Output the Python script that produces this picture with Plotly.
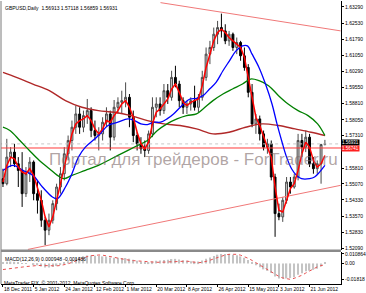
import plotly.graph_objects as go

# ---------------- data ----------------
bar_idx = list(range(85))
opens = [1.55315, 1.55083, 1.56317, 1.56549, 1.56009, 1.55700, 1.54620, 1.55546, 1.56086, 1.54620,
         1.54312, 1.53386, 1.52924, 1.53386, 1.54158, 1.54929, 1.55546, 1.56472, 1.57089, 1.57705,
         1.58322, 1.57705, 1.58245, 1.58477, 1.57551, 1.57320, 1.57397, 1.57937, 1.58322, 1.57243,
         1.58631, 1.58862, 1.58940, 1.59094, 1.58168, 1.57320, 1.56934, 1.56703, 1.56626, 1.57397,
         1.58631, 1.58785, 1.58477, 1.59402, 1.59094, 1.60019, 1.59711, 1.58940, 1.58631, 1.58785,
         1.58940, 1.58631, 1.59094, 1.60019, 1.61099, 1.61408, 1.62025, 1.62333, 1.62178, 1.61716,
         1.62025, 1.61408, 1.61639, 1.61022, 1.60482, 1.59325, 1.57860, 1.58091, 1.57397, 1.56780,
         1.56934, 1.55392, 1.53695, 1.53541, 1.54312, 1.55160, 1.54929, 1.55392, 1.57089, 1.56780,
         1.57243, 1.56009, 1.55778, 1.56009, 1.56913]
highs = [1.55778, 1.57166, 1.56780, 1.56934, 1.56317, 1.56549, 1.55855, 1.56317, 1.56163, 1.55237,
         1.54775, 1.53541, 1.53695, 1.54312, 1.55083, 1.55855, 1.56780, 1.57320, 1.58014, 1.58708,
         1.58631, 1.58477, 1.59017, 1.58631, 1.58014, 1.57705, 1.58168, 1.58631, 1.58477, 1.58970,
         1.59094, 1.59402, 1.59788, 1.59248, 1.58477, 1.57474, 1.57243, 1.57089, 1.57551, 1.59094,
         1.59094, 1.59094, 1.59711, 1.59711, 1.60328, 1.60559, 1.59865, 1.59094, 1.58940, 1.59094,
         1.59634, 1.59248, 1.60328, 1.61408, 1.61716, 1.62333, 1.62642, 1.62981, 1.62487, 1.62178,
         1.62102, 1.61870, 1.61716, 1.61408, 1.60636, 1.59711, 1.58322, 1.58245, 1.57551, 1.57166,
         1.57089, 1.55546, 1.54158, 1.54466, 1.55392, 1.55392, 1.55546, 1.57397, 1.57397, 1.57551,
         1.57397, 1.56317, 1.56163, 1.56934, 1.57118]
lows = [1.54929, 1.55006, 1.55855, 1.55855, 1.54929, 1.54003, 1.54466, 1.55160, 1.54312, 1.53695,
        1.53078, 1.52230, 1.52692, 1.53232, 1.53849, 1.54620, 1.55237, 1.56163, 1.56626, 1.57397,
        1.57397, 1.57474, 1.57860, 1.57243, 1.57089, 1.56626, 1.57089, 1.57705, 1.56626, 1.57089,
        1.58322, 1.58322, 1.58631, 1.57705, 1.57011, 1.56626, 1.56472, 1.56317, 1.56472, 1.57243,
        1.58168, 1.58245, 1.58322, 1.58785, 1.58940, 1.59557, 1.58631, 1.58322, 1.58322, 1.58477,
        1.58477, 1.58400, 1.58940, 1.59865, 1.60636, 1.61253, 1.61562, 1.61870, 1.61562, 1.61485,
        1.61253, 1.61099, 1.60791, 1.60328, 1.59094, 1.57705, 1.57397, 1.57089, 1.56626, 1.56472,
        1.55237, 1.52615, 1.53386, 1.53309, 1.54158, 1.54620, 1.54852, 1.55237, 1.56317, 1.56549,
        1.55855, 1.55546, 1.55546, 1.55083, 1.56859]
closes = [1.55083, 1.56317, 1.56549, 1.56009, 1.55700, 1.54620, 1.55546, 1.56086, 1.54620, 1.54312,
          1.53386, 1.52924, 1.53386, 1.54158, 1.54929, 1.55546, 1.56472, 1.57089, 1.57705, 1.58322,
          1.57705, 1.58245, 1.58477, 1.57551, 1.57320, 1.57397, 1.57937, 1.58322, 1.57243, 1.58631,
          1.58862, 1.58940, 1.59094, 1.58168, 1.57320, 1.56934, 1.56703, 1.56626, 1.57397, 1.58631,
          1.58785, 1.58477, 1.59402, 1.59094, 1.60019, 1.59711, 1.58940, 1.58631, 1.58785, 1.58940,
          1.58631, 1.59094, 1.60019, 1.61099, 1.61408, 1.62025, 1.62333, 1.62178, 1.61716, 1.62025,
          1.61408, 1.61639, 1.61022, 1.60482, 1.59325, 1.57860, 1.58091, 1.57397, 1.56780, 1.56934,
          1.55392, 1.53695, 1.53541, 1.54312, 1.55160, 1.54929, 1.55392, 1.57089, 1.56780, 1.57243,
          1.56009, 1.55778, 1.56009, 1.56900, 1.56931]

fast_ma = [1.55160, 1.55932, 1.56317, 1.56240, 1.55855, 1.55623, 1.55546, 1.55778, 1.55469, 1.54929,
           1.54312, 1.53541, 1.53078, 1.53541, 1.54312, 1.55160, 1.56009, 1.56780, 1.57397, 1.57860,
           1.58014, 1.58091, 1.58245, 1.58014, 1.57628, 1.57397, 1.57628, 1.58014, 1.57937, 1.58245,
           1.58477, 1.58785, 1.58940, 1.58631, 1.58168, 1.57474, 1.56934, 1.56703, 1.57011, 1.57860,
           1.58400, 1.58554, 1.58785, 1.59017, 1.59480, 1.59711, 1.59325, 1.58862, 1.58708, 1.58862,
           1.58940, 1.59017, 1.59634, 1.60482, 1.61099, 1.61716, 1.62102, 1.62256, 1.62102, 1.61870,
           1.61716, 1.61562, 1.61408, 1.60945, 1.60019, 1.58940, 1.58168, 1.57783, 1.57243, 1.56780,
           1.56317, 1.54929, 1.53849, 1.53772, 1.54312, 1.54852, 1.55083, 1.55700, 1.56472, 1.57011,
           1.56780, 1.56163, 1.55855, 1.56009, 1.56394]

mid_ma_x = [0, 2.65, 5.2, 7.8, 10.3, 12.9, 14.2, 16.3, 18.0, 19.7, 21.5, 24.0, 25.7, 27.4, 30.0,
            32.6, 34.3, 36.0, 37.7, 39.4, 41.1, 42.8, 44.5, 47.1, 48.8, 50.5, 52.2, 53.9, 55.6,
            57.4, 59.1, 60.8, 62.5, 63.8, 65.0, 66.8, 68.5, 70.2, 71.5, 72.7, 74.0, 75.3, 76.6,
            77.9, 80.0, 81.3, 82.6, 84]
mid_ma = [1.55700, 1.55932, 1.55700, 1.55469, 1.54929, 1.54466, 1.54389, 1.54929, 1.55546, 1.56317,
          1.56780, 1.57166, 1.57474, 1.57783, 1.57937, 1.58091, 1.58014, 1.57860, 1.57829, 1.57937,
          1.57937, 1.58091, 1.58322, 1.58785, 1.59017, 1.59047, 1.59171, 1.59480, 1.59788, 1.60328,
          1.60791, 1.61253, 1.61485, 1.61485, 1.61099, 1.60482, 1.59711, 1.58785, 1.57860, 1.57089,
          1.56317, 1.55778, 1.55469, 1.55314, 1.55314, 1.55392, 1.55623, 1.55932]

slow_ma_x = [0, 1.8, 4.4, 6.9, 9.5, 12.1, 14.2, 15.9, 18.0, 21.5, 24.9, 28.3, 31.7, 35.1, 37.7,
             40.3, 42.8, 45.4, 47.9, 50.5, 52.2, 54.8, 57.4, 59.9, 62.5, 64.6, 66.8, 69.3, 71.9,
             74.4, 77.0, 79.6, 82.1, 84]
slow_ma = [1.57705, 1.57551, 1.57089, 1.56626, 1.56163, 1.55778, 1.55469, 1.55315, 1.55469, 1.55700,
           1.55932, 1.56240, 1.56549, 1.56857, 1.57089, 1.57551, 1.57860, 1.58091, 1.58245, 1.58322,
           1.58554, 1.58940, 1.59248, 1.59480, 1.59711, 1.59942, 1.59865, 1.59634, 1.59171, 1.58785,
           1.58477, 1.58245, 1.57860, 1.57320]

long_ma_x = [0, 3.5, 7.8, 12.1, 16.3, 20.6, 24.9, 29.1, 33.4, 37.7, 42.0, 46.2, 50.5, 54.8, 59.0,
             63.3, 67.6, 71.9, 76.2, 80.4, 84]
long_ma = [1.60251, 1.60019, 1.59711, 1.59402, 1.58940, 1.58631, 1.58477, 1.58400, 1.58245, 1.58014,
           1.57860, 1.57783, 1.57628, 1.57397, 1.57474, 1.57705, 1.57860, 1.57783, 1.57628, 1.57474,
           1.57320]

upper_trend_x = [41.1, 88.1]
upper_trend_y = [1.63491, 1.62179]
lower_trend_x = [6.5, 88.1]
lower_trend_y = [1.52030, 1.55007]
level_price = 1.56741
last_close = 1.56931

macd_main = [0.0010, 0.0020, 0.0022, 0.0018, 0.0010, -0.0004, -0.0006, 0.0000, -0.0012, -0.0022,
             -0.0034, -0.0046, -0.0048, -0.0042, -0.0030, -0.0014, 0.0006, 0.0026, 0.0046, 0.0066,
             0.0074, 0.0082, 0.0090, 0.0090, 0.0088, 0.0084, 0.0080, 0.0078, 0.0068, 0.0066,
             0.0064, 0.0062, 0.0062, 0.0054, 0.0042, 0.0030, 0.0020, 0.0012, 0.0012, 0.0022,
             0.0030, 0.0032, 0.0040, 0.0042, 0.0050, 0.0052, 0.0044, 0.0036, 0.0030, 0.0026,
             0.0022, 0.0022, 0.0032, 0.0052, 0.0068, 0.0086, 0.0100, 0.0108, 0.010864, 0.0106,
             0.0100, 0.0092, 0.0080, 0.0064, 0.0040, 0.0004, -0.0020, -0.0044, -0.0068, -0.0084,
             -0.0110, -0.0150, -0.0172, -0.0176, -0.0172, -0.0166, -0.0158, -0.0130, -0.0112, -0.0090,
             -0.0082, -0.0074, -0.0062, -0.0036, 0.000948]
macd_signal = [-0.0070, -0.0066, -0.0060, -0.0054, -0.0048, -0.0042, -0.0036, -0.0030, -0.0026, -0.0024,
               -0.0024, -0.0026, -0.0028, -0.0029, -0.0028, -0.0024, -0.0016, -0.0004, 0.0012, 0.0030,
               0.0048, 0.0064, 0.0078, 0.0088, 0.0094, 0.0096, 0.0094, 0.0088, 0.0080, 0.0070,
               0.0060, 0.0050, 0.0042, 0.0036, 0.0032, 0.0028, 0.0024, 0.0020, 0.0016, 0.0014,
               0.0013, 0.0013, 0.0015, 0.0018, 0.0022, 0.0026, 0.0030, 0.0030, 0.0026, 0.0020,
               0.0012, 0.0008, 0.0012, 0.0022, 0.0036, 0.0052, 0.0068, 0.0084, 0.0096, 0.0104,
               0.0107, 0.0104, 0.0094, 0.0078, 0.0058, 0.0034, 0.0008, -0.0020, -0.0048, -0.0076,
               -0.0102, -0.0126, -0.0148, -0.0166, -0.0178, -0.0182, -0.0170, -0.0155, -0.0135, -0.0110,
               -0.0085, -0.0060, -0.0040, -0.0025, -0.0014]

date_ticks = [0, 8, 16, 24, 32, 40, 48, 56, 64, 72, 80]
date_labels = ["18 Dec 2011", "5 Jan 2012", "24 Jan 2012", "12 Feb 2012", "1 Mar 2012", "20 Mar 2012",
               "8 Apr 2012", "26 Apr 2012", "15 May 2012", "3 Jun 2012", "21 Jun 2012"]
price_ticks = [1.63290, 1.62530, 1.61790, 1.61050, 1.60290, 1.59550, 1.58810, 1.58050, 1.57310,
               1.55810, 1.55070, 1.54330, 1.53570, 1.52830, 1.52090]
price_tick_text = ["1.63290", "1.62530", "1.61790", "1.61050", "1.60290", "1.59550", "1.58810",
                   "1.58050", "1.57310", "1.55810", "1.55070", "1.54330", "1.53570", "1.52830", "1.52090"]
macd_ticks = [0.010864, 0.0, -0.01818]
macd_tick_text = ["0.010864", "0.00", "-0.01818"]

header_text = "GBPUSD,Daily  1.56913 1.57118 1.56859 1.56931"
macd_text = "MACD(12,26,9) 0.000948 -0.001436"
footer_text = "MetaTrader FIX, © 2001-2012, MetaQuotes Software Corp."
watermark = "Портал для трейдеров - ForTrader.ru"

# ---------------- figure ----------------
W, H = 366, 293
ML, MR, MT, MB = 1, 19, 0, 9
PW, PH = W - ML - MR, H - MT - MB
FONT = "Liberation Sans, Arial, sans-serif"


def px_x(p):
    return (p - ML) / PW


def px_y(p):
    return (H - MB - p) / PH


fig = go.Figure()

fig.add_trace(go.Candlestick(
    x=bar_idx, open=opens, high=highs, low=lows, close=closes,
    increasing=dict(line=dict(color="#4a4a4a", width=1), fillcolor="#d2d2d2"),
    decreasing=dict(line=dict(color="#000000", width=1), fillcolor="#000000"),
    whiskerwidth=0, xaxis="x", yaxis="y", showlegend=False, hoverinfo="skip"))

fig.add_trace(go.Scatter(x=[-1, 89], y=[last_close, last_close], mode="lines",
                         line=dict(color="#c8c8c8", width=1, dash="dot"), yaxis="y"))
fig.add_trace(go.Scatter(x=[-1, 89], y=[level_price, level_price], mode="lines",
                         line=dict(color="#ff3b3b", width=1), yaxis="y"))
fig.add_trace(go.Scatter(x=upper_trend_x, y=upper_trend_y, mode="lines",
                         line=dict(color="#f07878", width=1), yaxis="y"))
fig.add_trace(go.Scatter(x=lower_trend_x, y=lower_trend_y, mode="lines",
                         line=dict(color="#f07878", width=1), yaxis="y"))
fig.add_trace(go.Scatter(x=long_ma_x, y=long_ma, mode="lines", line_shape="spline",
                         line=dict(color="#b02828", width=1.4), yaxis="y"))
fig.add_trace(go.Scatter(x=slow_ma_x, y=slow_ma, mode="lines", line_shape="spline",
                         line=dict(color="#008000", width=1.3), yaxis="y"))
fig.add_trace(go.Scatter(x=mid_ma_x, y=mid_ma, mode="lines", line_shape="spline",
                         line=dict(color="#0000ff", width=1.3), yaxis="y"))
fig.add_trace(go.Scatter(x=bar_idx, y=fast_ma, mode="lines",
                         line=dict(color="#ff0000", width=1.5), yaxis="y"))

fig.add_trace(go.Bar(x=bar_idx, y=macd_main, width=0.35, marker=dict(color="#c4c4c4", line=dict(width=0)),
                     yaxis="y2"))
fig.add_trace(go.Scatter(x=bar_idx, y=macd_signal, mode="lines",
                         line=dict(color="#e85050", width=1, dash="dot"), yaxis="y2"))

ann = []
ann.append(dict(text=header_text, x=px_x(3), y=px_y(2), xref="paper", yref="paper",
                xanchor="left", yanchor="top", showarrow=False,
                font=dict(family=FONT, size=5, color="#000")))
ann.append(dict(text=macd_text, x=px_x(3), y=px_y(253.5), xref="paper", yref="paper",
                xanchor="left", yanchor="top", showarrow=False,
                font=dict(family=FONT, size=5, color="#000")))
ann.append(dict(text=footer_text, x=px_x(2), y=px_y(277.5), xref="paper", yref="paper",
                xanchor="left", yanchor="top", showarrow=False,
                font=dict(family=FONT, size=5, color="#000")))
ann.append(dict(text=watermark, x=px_x(197), y=px_y(159), xref="paper", yref="paper",
                xanchor="center", yanchor="middle", showarrow=False,
                font=dict(family=FONT, size=17, color="rgba(125,105,105,0.6)")))
ann.append(dict(text="1.56931", x=1.0, y=last_close, xref="paper", yref="y", yshift=1,
                xanchor="left", yanchor="middle", showarrow=False, bgcolor="#000000",
                borderpad=0, font=dict(family=FONT, size=4.5, color="#ffffff")))
ann.append(dict(text="1.56741", x=1.0, y=level_price, xref="paper", yref="y", yshift=-1,
                xanchor="left", yanchor="middle", showarrow=False, bgcolor="#ff2020",
                borderpad=0, font=dict(family=FONT, size=4.5, color="#ffffff")))

shapes = [
    dict(type="line", xref="paper", yref="paper", x0=0, x1=0, y0=0, y1=1,
         line=dict(color="#7a7a7a", width=1)),
    dict(type="rect", xref="paper", yref="paper", x0=0, x1=1, y0=px_y(252), y1=px_y(249.5),
         line=dict(width=0), fillcolor="#8a8a8a"),
]

fig.update_layout(
    width=W, height=H, margin=dict(l=ML, r=MR, t=MT, b=MB),
    paper_bgcolor="#ffffff", plot_bgcolor="#ffffff", showlegend=False,
    annotations=ann, shapes=shapes,
    xaxis=dict(range=[-0.513, 88.2], anchor="y2", showgrid=False, zeroline=False,
               tickmode="array", tickvals=date_ticks, ticktext=date_labels, tickangle=0,
               ticks="outside", ticklen=2, tickcolor="#000", ticklabelposition="outside right",
               tickfont=dict(family=FONT, size=5, color="#000"), showline=True, linecolor="#000",
               linewidth=1, rangeslider=dict(visible=False)),
    yaxis=dict(domain=[px_y(250), 1.0], range=[1.51998, 1.63567], side="right", anchor="x",
               showgrid=False, zeroline=False, tickmode="array", tickvals=price_ticks,
               ticktext=price_tick_text, ticks="outside", ticklen=2, tickcolor="#000",
               tickfont=dict(family=FONT, size=5, color="#000"), showline=True,
               linecolor="#000", linewidth=1),
    yaxis2=dict(domain=[0, px_y(252)], range=[-0.0235, 0.0129], side="right", anchor="x",
                showgrid=False, zeroline=False, tickmode="array", tickvals=macd_ticks,
                ticktext=macd_tick_text, ticks="outside", ticklen=2, tickcolor="#000",
                tickfont=dict(family=FONT, size=5, color="#000"), showline=True,
                linecolor="#000", linewidth=1),
)

fig.write_html("out.html")
